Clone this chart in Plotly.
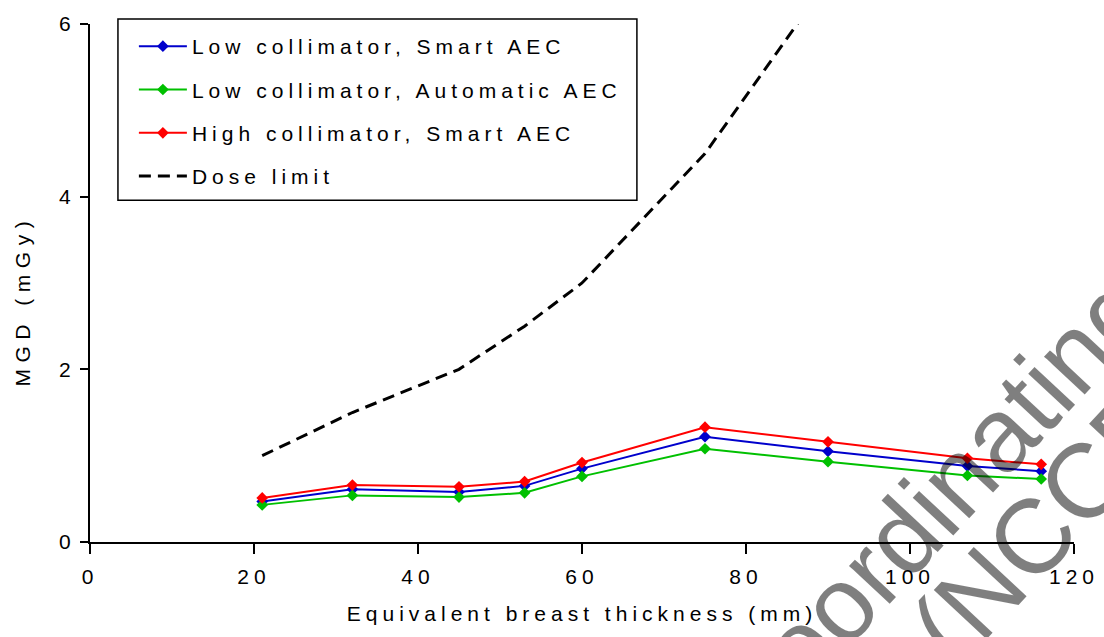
import plotly.graph_objects as go

# Data
thickness = [21, 32, 45, 53, 60, 75, 90, 107, 116]
low_smart = [0.47, 0.61, 0.58, 0.65, 0.85, 1.22, 1.05, 0.88, 0.82]
low_auto = [0.43, 0.54, 0.52, 0.57, 0.76, 1.08, 0.93, 0.77, 0.73]
high_smart = [0.51, 0.66, 0.64, 0.70, 0.92, 1.33, 1.16, 0.97, 0.90]
limit_thickness = [21, 32, 45, 53, 60, 75, 90]
dose_limit = [1.0, 1.5, 2.0, 2.5, 3.0, 4.5, 6.5]

x_ticks = [0, 20, 40, 60, 80, 100, 120]
y_ticks = [0, 2, 4, 6]

FONT = "Liberation Sans, Arial, sans-serif"

fig = go.Figure()

series = [
    ("Low collimator, Smart AEC", low_smart, "#0000cc"),
    ("Low collimator, Automatic AEC", low_auto, "#00c000"),
    ("High collimator, Smart AEC", high_smart, "#ff0000"),
]
for i, (name, vals, col) in enumerate(series):
    fig.add_trace(go.Scatter(
        x=thickness, y=vals, name=name, mode="lines+markers",
        line=dict(color=col, width=2),
        marker=dict(symbol="diamond", size=9, color=col),
        legendgroup=f"g{i}",
    ))

fig.add_trace(go.Scatter(
    x=limit_thickness, y=dose_limit, name="Dose limit", mode="lines",
    line=dict(color="black", width=3, dash="12px,7px"),
    legendgroup="g3",
))

WM = dict(family=FONT, size=105, color="rgba(0,0,0,0.5)")

fig.update_layout(
    width=1104, height=637,
    margin=dict(l=90, r=28, t=19, b=95),
    paper_bgcolor="white", plot_bgcolor="white",
    font=dict(family=FONT, size=21, color="black"),
    showlegend=True,
    legend=dict(
        x=0.0446, y=0.996, xanchor="left", yanchor="top",
        borderwidth=0, bgcolor="rgba(0,0,0,0)",
        font=dict(family=FONT, size=21, color="#010101"),
        itemwidth=48, tracegroupgap=13,
    ),
    xaxis=dict(
        range=[0, 120], tickvals=x_ticks, ticktext=[str(v) for v in x_ticks],
        showgrid=False, zeroline=False, showline=True, linecolor="black", linewidth=2,
        ticks="outside", ticklen=10, tickwidth=1.5, tickcolor="black",
        ticklabelstandoff=5,
        title=dict(text="Equivalent breast thickness (mm)", standoff=19,
                   font=dict(family=FONT, size=21)),
    ),
    yaxis=dict(
        range=[0, 6], tickvals=y_ticks, ticktext=[str(v) for v in y_ticks],
        showgrid=False, zeroline=False, showline=True, linecolor="black", linewidth=2,
        ticks="outside", ticklen=8, tickwidth=1.5, tickcolor="black",
    ),
    shapes=[dict(
        type="rect", xref="paper", yref="paper",
        x0=0.0284, x1=0.5558, y0=0.6597, y1=1.0096,
        line=dict(color="black", width=1.5), fillcolor="rgba(0,0,0,0)", layer="above",
    )],
    annotations=[
        dict(text="Coordinating", xref="paper", yref="paper", x=0.853, y=0.067,
             xanchor="center", yanchor="middle",
             showarrow=False, textangle=-47, font=WM),
        dict(text="(NCCPM)", xref="paper", yref="paper", x=1.012, y=0.12,
             xanchor="center", yanchor="middle",
             showarrow=False, textangle=-47, font=WM),
        # y-axis title
        dict(text="MGD (mGy)", xref="paper", yref="paper", x=-0.069, y=0.465,
             xanchor="center", yanchor="middle",
             showarrow=False, textangle=-90,
             font=dict(family=FONT, size=21, color="black")),
    ],
)

post = """
var st = document.createElement('style');
st.innerHTML = 'svg text { letter-spacing: 5px; } '
  + '.annotation[data-index="0"] text, .annotation[data-index="1"] text { letter-spacing: 0px; } '
  + '.annotation[data-index="2"] text { letter-spacing: 6.5px; }';
document.head.appendChild(st);
var gd = document.getElementById('{plot_id}');
Plotly.relayout(gd, {'legend.font.color': '#000000'});
"""

fig.write_html("out.html", post_script=post)
